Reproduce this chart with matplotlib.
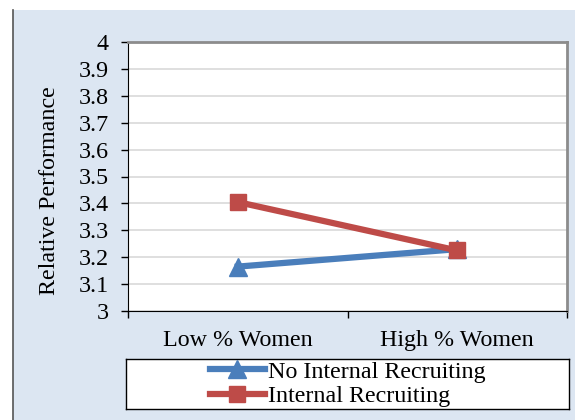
import matplotlib.pyplot as plt
from matplotlib.patches import Rectangle
from matplotlib.lines import Line2D

# Data
categories = ["Low % Women", "High % Women"]
no_internal = [3.165, 3.23]
internal = [3.405, 3.225]
series_names = ["No Internal Recruiting", "Internal Recruiting"]
yticks = [3, 3.1, 3.2, 3.3, 3.4, 3.5, 3.6, 3.7, 3.8, 3.9, 4]

plt.rcParams["font.family"] = ["Liberation Serif", "DejaVu Serif"]
FS = 17.3

W, H = 575, 420
fig = plt.figure(figsize=(W / 100, H / 100), dpi=100)
fig.patch.set_facecolor("white")

# light blue panel behind the chart
fig.add_artist(Rectangle((13 / W, 0), 1 - 13 / W, 1 - 10 / H,
                         transform=fig.transFigure, facecolor="#dce6f2",
                         edgecolor="none", zorder=-10))
fig.add_artist(Line2D([13 / W, 13 / W], [0, 1 - 10 / H], transform=fig.transFigure,
                      color="#555555", lw=1.2, zorder=-9))

ax = fig.add_axes([128 / W, 1 - 311 / H, (567 - 128) / W, (311 - 42) / H])
ax.set_facecolor("white")

x = range(len(categories))
blue = "#4a7ebb"
red = "#be4b48"
l1, = ax.plot(x, no_internal, color=blue, lw=4.5, marker="^", markersize=12.5,
              label=series_names[0], zorder=3)
l2, = ax.plot(x, internal, color=red, lw=4.5, marker="s", markersize=11.5,
              label=series_names[1], zorder=4)

ax.set_xlim(-0.5, 1.5)
ax.set_ylim(3, 4)
ax.set_yticks(yticks)
ax.set_yticklabels(["3", "3.1", "3.2", "3.3", "3.4", "3.5", "3.6", "3.7", "3.8", "3.9", "4"])
ax.set_xticks([-0.5, 0.5, 1.5])
ax.set_xticklabels([])
ax.set_xticks([0, 1], minor=True)
ax.set_xticklabels(categories, minor=True)
ax.tick_params(axis="x", which="minor", length=0, pad=14, labelsize=FS)
ax.tick_params(axis="x", which="major", length=5, width=1, direction="out")
ax.tick_params(axis="y", length=5, width=1, direction="out", pad=9, labelsize=FS)

ax.yaxis.grid(True, color="#d9d9d9", lw=1.2)
ax.set_axisbelow(True)
for s in ["top", "right"]:
    ax.spines[s].set_color("#8c8c8c")
    ax.spines[s].set_linewidth(2)
ax.spines["left"].set_color("black")
ax.spines["bottom"].set_color("black")

ax.set_ylabel("Relative Performance", fontsize=FS)
ax.yaxis.set_label_coords(-0.155, 0.446)

# legend box
lax = fig.add_axes([126 / W, 1 - 409 / H, (569 - 126) / W, 50 / H])
lax.set_xticks([])
lax.set_yticks([])
lax.set_facecolor("white")
for s in lax.spines.values():
    s.set_color("black")
    s.set_linewidth(1)
lax.legend(handles=[l1, l2], loc="center", frameon=False, fontsize=FS,
           handlelength=2.3, handletextpad=0.1, labelspacing=0.1,
           borderpad=0, borderaxespad=0, markerscale=1)

fig.savefig("out.png", dpi=100)
